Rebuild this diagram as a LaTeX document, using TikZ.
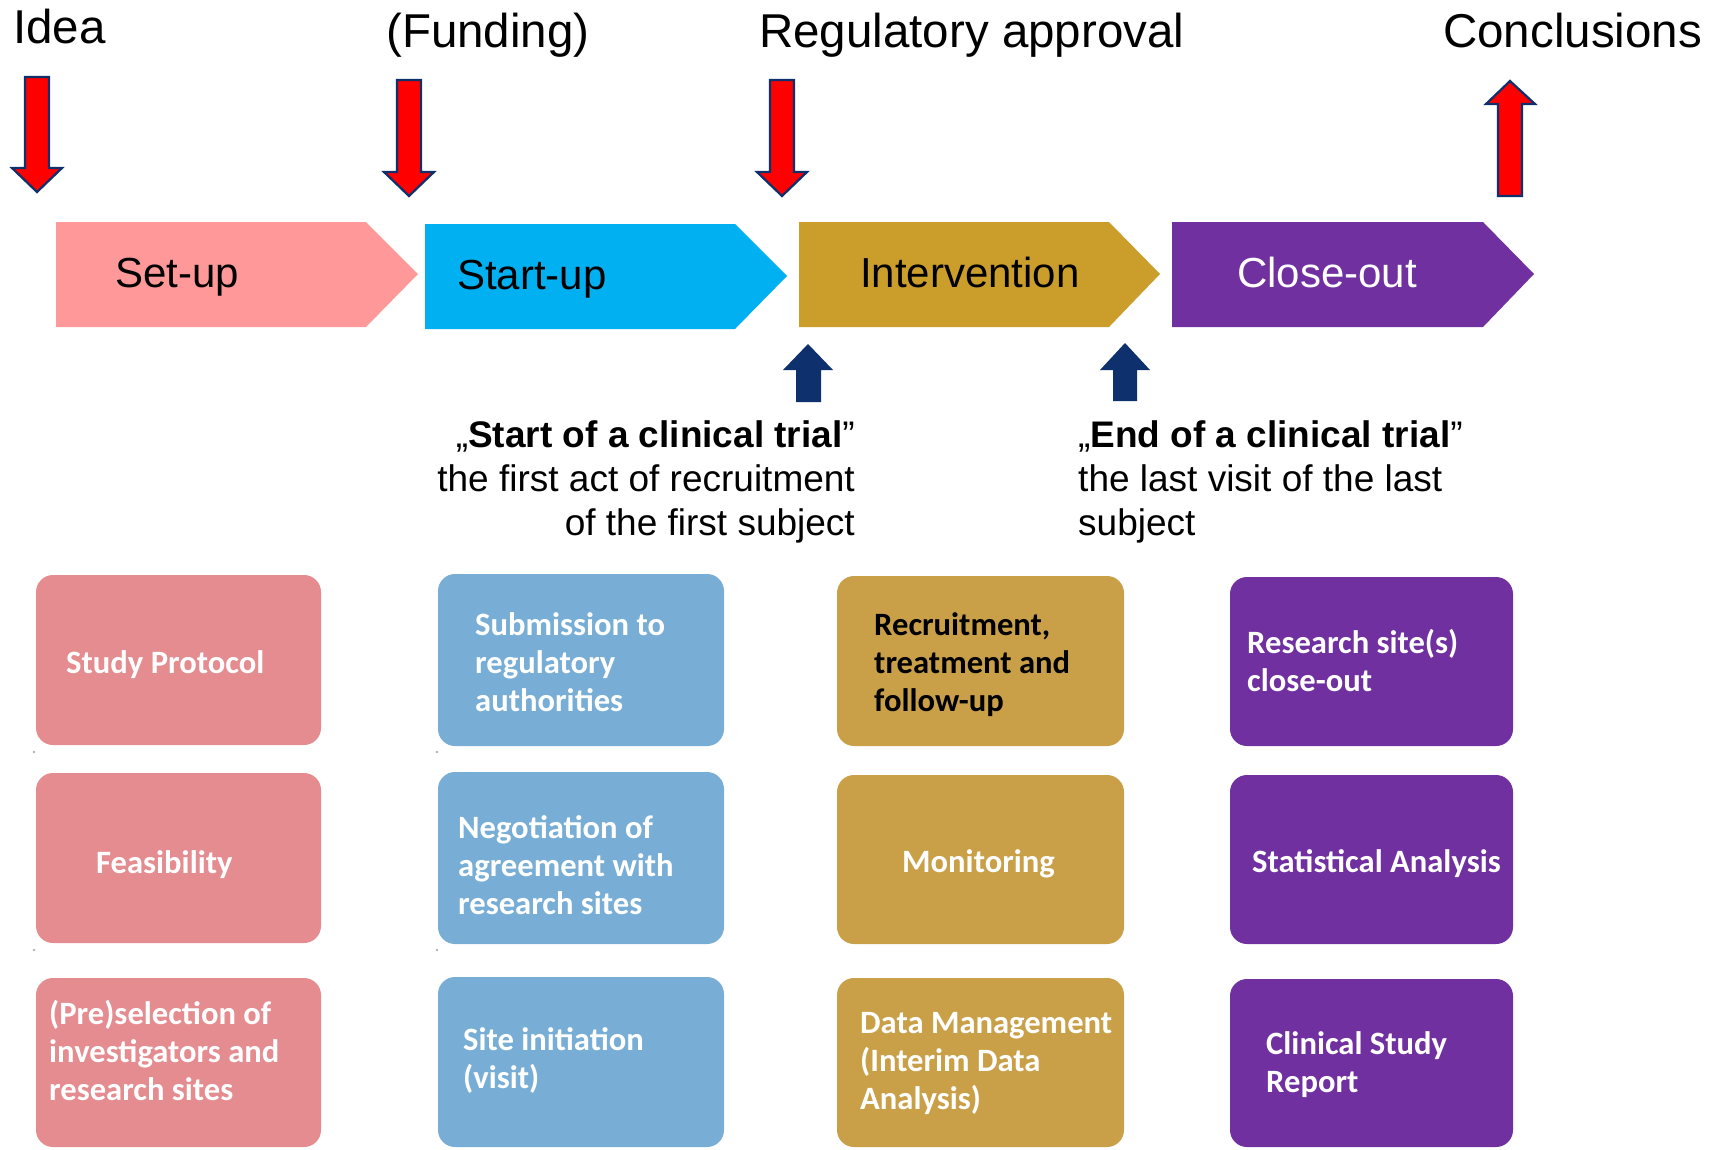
\documentclass[tikz,border=0pt]{standalone}
\usepackage{fontspec}
\setmainfont{Liberation Sans}
\newfontfamily\calib{Carlito}
\definecolor{arrred}{RGB}{255,0,0}
\definecolor{navy}{RGB}{14,48,108}
\definecolor{csetup}{RGB}{255,153,153}
\definecolor{cstart}{RGB}{0,176,240}
\definecolor{cinter}{RGB}{203,158,44}
\definecolor{cclose}{RGB}{112,48,160}
\definecolor{bpink}{RGB}{228,140,143}
\definecolor{bblue}{RGB}{120,174,214}
\definecolor{bgold}{RGB}{201,160,72}
\definecolor{bpurp}{RGB}{112,48,160}
\begin{document}
\begin{tikzpicture}[x=1pt,y=-1pt,
  redarrow/.style={fill=arrred, draw=navy, line width=2.2pt, line join=miter},
  bluearrow/.style={fill=navy},
  title/.style={font=\fontsize{47.5}{57}\selectfont, anchor=base west, inner sep=0},
  chevtext/.style={font=\fontsize{42}{50}\selectfont, anchor=base west, inner sep=0},
  box/.style={rounded corners=17pt},
  boxtext/.style={font=\calib\bfseries\fontsize{32.6}{38}\selectfont, anchor=base west, inner sep=0, text=white},
  note/.style={font=\fontsize{37}{44}\selectfont, inner sep=0}
]
\useasboundingbox[fill=white] (0,0) rectangle (1713,1149);

% titles
\node[title] (idea) at (13,43) {Idea};
\node[title] (funding) at (386,47) {(Funding)};
\node[title] (reg) at (759,47) {Regulatory approval};
\node[title] (concl) at (1443,47) {Conclusions};

% red arrows
\draw[redarrow] (25,77) -- (49,77) -- (49,168) -- (62,168) -- (37,192) -- (12,168) -- (25,168) -- cycle;
\draw[redarrow] (397,80) -- (421,80) -- (421,172) -- (434,172) -- (409,196) -- (384,172) -- (397,172) -- cycle;
\draw[redarrow] (770,80) -- (794,80) -- (794,172) -- (807,172) -- (782,196) -- (757,172) -- (770,172) -- cycle;
\draw[redarrow] (1498,196) -- (1522,196) -- (1522,104) -- (1535,104) -- (1510,81) -- (1486,104) -- (1498,104) -- cycle;

% chevrons
\fill[csetup] (56,222) -- (366,222) -- (418,274) -- (366,327) -- (56,327) -- cycle;
\fill[cstart] (425,224) -- (735,224) -- (787,276) -- (735,329) -- (425,329) -- cycle;
\fill[cinter] (799,222) -- (1109,222) -- (1160,274) -- (1109,327) -- (799,327) -- cycle;
\fill[cclose] (1172,222) -- (1483,222) -- (1534,274) -- (1483,327) -- (1172,327) -- cycle;
\node[chevtext] (setup) at (115,287) {Set-up};
\node[chevtext] (startup) at (457,289) {Start-up};
\node[chevtext] (interv) at (860,287) {Intervention};
\node[chevtext, text=white] (closeout) at (1237,287) {Close-out};

% blue arrows
\fill[bluearrow] (796,402) -- (821,402) -- (821,370) -- (833,370) -- (808,344) -- (783,370) -- (796,370) -- cycle;
\fill[bluearrow] (1113,401) -- (1137,401) -- (1137,370) -- (1150,370) -- (1125,343) -- (1100,370) -- (1113,370) -- cycle;

% notes
\node[note, anchor=base east] (startlbl) at (855,447)
  {\begin{tabular}[t]{@{}r@{}}„\textbf{Start of a clinical trial}”\\ the first act of recruitment\\ of the first subject\end{tabular}};
\node[note, anchor=base west] (endlbl) at (1078,447)
  {\begin{tabular}[t]{@{}l@{}}„\textbf{End of a clinical trial}”\\ the last visit of the last\\ subject\end{tabular}};

% boxes column 1
\fill[bpink, box] (36,575) rectangle (321,745);
\fill[bpink, box] (36,773) rectangle (321,943);
\fill[bpink, box] (36,978) rectangle (321,1147);
% column 2
\fill[bblue, box] (438,574) rectangle (724,746);
\fill[bblue, box] (438,772) rectangle (724,944);
\fill[bblue, box] (438,977) rectangle (724,1147);
% column 3
\fill[bgold, box] (837,576) rectangle (1124,746);
\fill[bgold, box] (837,775) rectangle (1124,944);
\fill[bgold, box] (837,978) rectangle (1124,1147);
% column 4
\fill[bpurp, box] (1230,577) rectangle (1513,746);
\fill[bpurp, box] (1230,775) rectangle (1513,944);
\fill[bpurp, box] (1230,979) rectangle (1513,1147);

% tiny marks
\fill[gray!60] (34,752) circle (1.3);
\fill[gray!60] (437,752) circle (1.3);
\fill[gray!60] (34,950) circle (1.3);
\fill[gray!60] (437,950) circle (1.3);

% box texts
\node[boxtext] (t11) at (66,673) {Study Protocol};
\node[boxtext] (t12) at (96,873) {Feasibility};
\node[boxtext] (t13) at (49,1024) {\begin{tabular}[t]{@{}l@{}}(Pre)selection of\\ investigators and\\ research sites\end{tabular}};
\node[boxtext] (t21) at (475,635) {\begin{tabular}[t]{@{}l@{}}Submission to\\ regulatory\\ authorities\end{tabular}};
\node[boxtext] (t22) at (458,838) {\begin{tabular}[t]{@{}l@{}}Negotiation of\\ agreement with\\ research sites\end{tabular}};
\node[boxtext] (t23) at (463,1050) {\begin{tabular}[t]{@{}l@{}}Site initiation\\ (visit)\end{tabular}};
\node[boxtext, text=black] (t31) at (874,635) {\begin{tabular}[t]{@{}l@{}}Recruitment,\\ treatment and\\ follow-up\end{tabular}};
\node[boxtext] (t32) at (902,872) {Monitoring};
\node[boxtext] (t33) at (860,1033) {\begin{tabular}[t]{@{}l@{}}Data Management\\ (Interim Data\\ Analysis)\end{tabular}};
\node[boxtext] (t41) at (1247,653) {\begin{tabular}[t]{@{}l@{}}Research site(s)\\ close-out\end{tabular}};
\node[boxtext] (t42) at (1252,872) {Statistical Analysis};
\node[boxtext] (t43) at (1266,1054) {\begin{tabular}[t]{@{}l@{}}Clinical Study\\ Report\end{tabular}};
\end{tikzpicture}
\end{document}
